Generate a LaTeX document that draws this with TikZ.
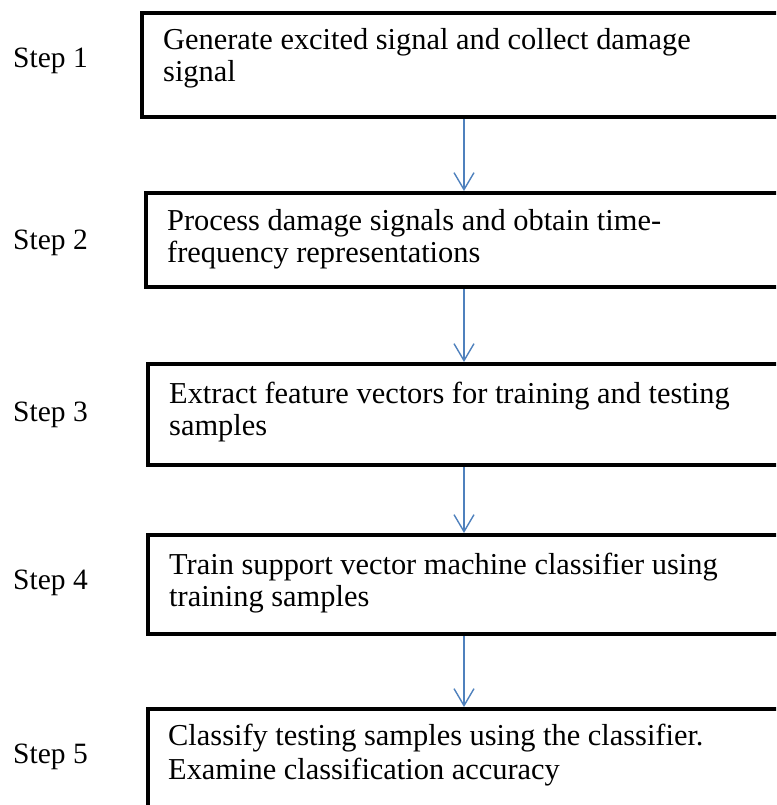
\documentclass[tikz,border=0pt]{standalone}
\usepackage{fontspec}
\setmainfont{Liberation Serif}
\usetikzlibrary{arrows.meta}
\definecolor{flowblue}{RGB}{79,129,189}
\begin{document}
\begin{tikzpicture}[x=1pt,y=-1pt,
  stepbox/.style={draw=black,line width=4pt,inner sep=0pt,minimum width=#1},
  txt/.style={inner sep=0pt,anchor=base west,font=\fontsize{30.4}{34}\selectfont},
  lbl/.style={inner sep=0pt,anchor=base west,font=\fontsize{29.5}{34}\selectfont},
  flow/.style={draw=flowblue,line width=1.4pt,-{Straight Barb[length=17pt,width=20pt,line width=1.4pt]}}]
\useasboundingbox (0,0) rectangle (776,805);
\clip (0,0) rectangle (776,805);
\fill[white] (0,0) rectangle (776,805);

% process boxes (right edges run past the page)
\node[stepbox=644pt,minimum height=104pt] (b1) at (464,65) {};
\node[stepbox=636pt,minimum height=94pt]  (b2) at (464,240) {};
\node[stepbox=632pt,minimum height=101pt] (b3) at (464,414.5) {};
\node[stepbox=632pt,minimum height=99pt]  (b4) at (464,584.5) {};
\node[stepbox=632pt,minimum height=121pt] (b5) at (464,769.5) {};

% step labels
\node[lbl] (s1) at (13,68)  {Step 1};
\node[lbl] (s2) at (13,249) {Step 2};
\node[lbl] (s3) at (13,421) {Step 3};
\node[lbl] (s4) at (13,589) {Step 4};
\node[lbl] (s5) at (13,763) {Step 5};

% box texts
\node[txt] (t1a) at (163,50)  {Generate excited signal and collect damage};
\node[txt] (t1b) at (163,82)  {signal};
\node[txt] (t2a) at (167,230) {Process damage signals and obtain time-};
\node[txt] (t2b) at (167,262) {frequency representations};
\node[txt] (t3a) at (169,403) {Extract feature vectors for training and testing};
\node[txt] (t3b) at (169,435) {samples};
\node[txt] (t4a) at (169,574) {Train support vector machine classifier using};
\node[txt] (t4b) at (169,606) {training samples};
\node[txt] (t5a) at (168,745) {Classify testing samples using the classifier.};
\node[txt] (t5b) at (168,779) {Examine classification accuracy};

% connectors
\draw[flow] (b1.south) -- (b2.north);
\draw[flow] (b2.south) -- (b3.north);
\draw[flow] (b3.south) -- (b4.north);
\draw[flow] (b4.south) -- (b5.north);
\end{tikzpicture}
\end{document}
